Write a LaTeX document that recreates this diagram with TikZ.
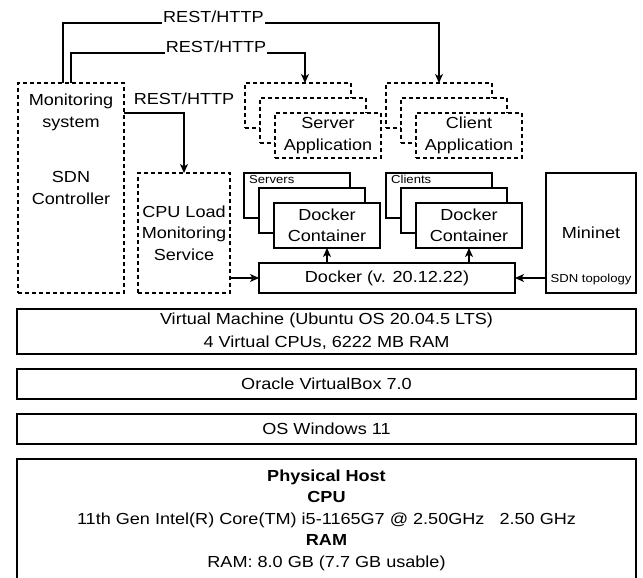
\documentclass[tikz,border=0pt]{standalone}
\usepackage{fontspec}
\setmainfont{Liberation Sans}[FakeStretch=1.13]
\usetikzlibrary{arrows.meta,positioning}

\begin{document}
\begin{tikzpicture}[
    x=1pt, y=-1pt,
    >={Stealth[length=9pt,width=8pt,inset=2.5pt]},
    font=\fontsize{16}{21.5}\selectfont,
    box/.style={draw, line width=1.3pt, fill=white, align=center,
                inner sep=0pt, outer sep=0pt},
    dbox/.style={box, dash pattern=on 4pt off 3pt},
    appbox/.style={dbox, minimum width=106pt, minimum height=45pt},
    ctrbox/.style={box, minimum width=106pt, minimum height=45pt},
    layer/.style={box, minimum width=619pt, minimum height=30pt},
    small/.style={font=\fontsize{11.6}{14}\selectfont},
    flow/.style={->, line width=1.3pt},
    lbl/.style={fill=white, inner xsep=1pt, inner ysep=2pt},
  ]
  \useasboundingbox (0,0) rectangle (643,578);

  \node[dbox, minimum width=106pt, minimum height=210pt] (mon) at (71,188) {};
  \node[anchor=north, inner sep=0pt, align=center] (montxt)
       at ([yshift=-11pt]mon.north) {Monitoring\\system};
  \node[align=center] (sdn) at (mon.center) {SDN\\Controller};

  \node[dbox, minimum width=92pt, minimum height=120pt] (cpu) at (184,233)
       {CPU Load\\Monitoring\\Service};

  % application stacks
  \node[appbox] (srvapp1) at (298,105.5) {};
  \node[appbox] (srvapp2) at ([shift={(15pt,-15pt)}]srvapp1.center) {};
  \node[appbox] (srvapp3) at ([shift={(15pt,-15pt)}]srvapp2.center) {Server\\Application};

  \node[appbox] (cliapp1) at (439,105.5) {};
  \node[appbox] (cliapp2) at ([shift={(15pt,-15pt)}]cliapp1.center) {};
  \node[appbox] (cliapp3) at ([shift={(15pt,-15pt)}]cliapp2.center) {Client\\Application};

  % container stacks
  \node[ctrbox] (srvc1) at (297,195.5) {};
  \node[small, anchor=north west, inner sep=2pt] (srvlbl)
       at ([xshift=3pt]srvc1.north west) {Servers};
  \node[ctrbox] (srvc2) at ([shift={(15pt,-15pt)}]srvc1.center) {};
  \node[ctrbox] (srvc3) at ([shift={(15pt,-15pt)}]srvc2.center) {Docker\\Container};

  \node[ctrbox] (clic1) at (439,195.5) {};
  \node[small, anchor=north west, inner sep=2pt] (clilbl)
       at ([xshift=3pt]clic1.north west) {Clients};
  \node[ctrbox] (clic2) at ([shift={(15pt,-15pt)}]clic1.center) {};
  \node[ctrbox] (clic3) at ([shift={(15pt,-15pt)}]clic2.center) {Docker\\Container};

  \node[box, minimum width=256pt, minimum height=30pt] (docker) at (387,278)
       {Docker (v. 20.12.22)};
  \node[box, minimum width=90pt, minimum height=120pt] (mininet) at (591,233) {Mininet};
  \node[small, above=5pt of mininet.south] (topo) {SDN topology};

  % layers
  \node[box, minimum width=619pt, minimum height=45pt] (vm) at (326.5,331.5)
       {Virtual Machine (Ubuntu OS 20.04.5 LTS)\\[1.5pt]4 Virtual CPUs, 6222 MB RAM};
  \node[layer, below=15pt of vm] (vbox) {Oracle VirtualBox 7.0};
  \node[layer, below=15pt of vbox] (win) {OS Windows 11};
  \node[box, minimum width=619pt, minimum height=122pt, below=15pt of win] (host)
       {\textbf{Physical Host}\\\textbf{CPU}\\
        11th Gen Intel(R) Core(TM) i5-1165G7 @ 2.50GHz\ \ \ 2.50 GHz\\
        \textbf{RAM}\\RAM: 8.0 GB (7.7 GB usable)};

  % connectors
  \draw[flow] ([xshift=-8pt]mon.north) -- ++(0,-60)
       -| node[lbl, pos=0.2, anchor=base, yshift=0.5pt] {REST/HTTP} (cliapp1.north);
  \draw[flow] (mon.north) -- ++(0,-30)
       -| node[lbl, pos=0.31, anchor=base, yshift=0.5pt] {REST/HTTP} ([xshift=7pt]srvapp1.north);
  \draw[flow] ([yshift=75pt]mon.east)
       -| node[pos=0.5, above=4pt] {REST/HTTP} (cpu.north);
  \draw[flow] (cpu.east |- docker.west) -- (docker.west);
  \draw[flow] (mininet.west |- docker.east) -- (docker.east);
  \draw[flow] (docker.north -| srvc3.south) -- (srvc3.south);
  \draw[flow] (docker.north -| clic3.south) -- (clic3.south);

\end{tikzpicture}
\end{document}
